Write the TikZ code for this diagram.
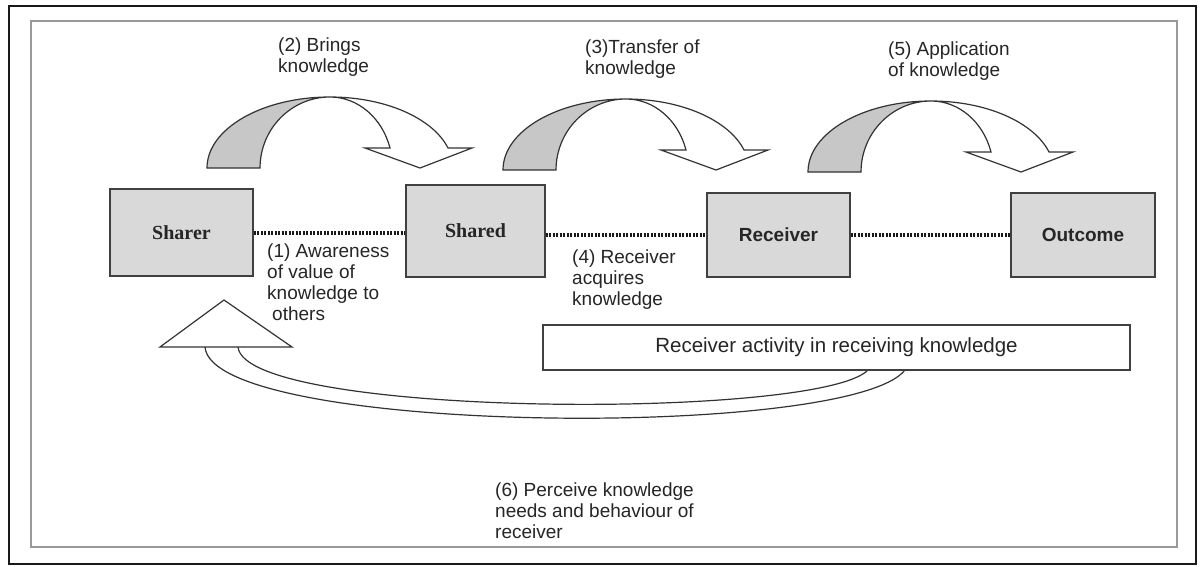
\documentclass[tikz,border=0pt]{standalone}
\usepackage{fontspec}
\setmainfont{Liberation Sans}
\newfontfamily\boxserif{Liberation Serif}
\begin{document}
\begin{tikzpicture}[x=1pt,y=-1pt,
  box/.style={draw=black!75, line width=1.3pt, fill=black!15, inner sep=0pt,
    font=\bfseries\fontsize{19}{21}\selectfont, text=black!85},
  serifbox/.style={box, font=\boxserif\bfseries\fontsize{20}{22}\selectfont},
  lbl/.style={anchor=north west, inner sep=0pt, align=left,
    font=\fontsize{19}{21}\selectfont, text=black!85},
  dotline/.style={draw=black!90, line width=4pt, dash pattern=on 2pt off 1.5pt},
  shapeline/.style={draw=black!80, line width=1.2pt},
  curvearrow/.pic={
    \path[fill=white] (0,0) arc[start angle=180,end angle=343.64,x radius=123,y radius=71]
      -- (265,-20) -- (213,0) -- (158,-20) -- (183,-20)
      arc[start angle=343.64,end angle=270,x radius=62.5,y radius=71]
      arc[start angle=270,end angle=180,x radius=70,y radius=71] -- cycle;
    \fill[black!22] (0,0) arc[start angle=180,end angle=270,x radius=123,y radius=71]
      arc[start angle=270,end angle=180,x radius=70,y radius=71] -- cycle;
    \draw[shapeline, line join=miter] (0,0) arc[start angle=180,end angle=343.64,x radius=123,y radius=71]
      -- (265,-20) -- (213,0) -- (158,-20) -- (183,-20)
      arc[start angle=343.64,end angle=270,x radius=62.5,y radius=71]
      arc[start angle=270,end angle=180,x radius=70,y radius=71] -- cycle;
  }]
\useasboundingbox (0,0) rectangle (1204,566);
\fill[white] (0,0) rectangle (1204,566);
% frames
\draw[line width=2pt, black!90] (9,6) rectangle (1196,564);
\draw[line width=2pt, black!40] (31,21) rectangle (1177,547);

% boxes
\node[serifbox, minimum width=143pt, minimum height=87pt] (sharer) at (181.5,232.5) {Sharer};
\node[serifbox, minimum width=139pt, minimum height=92pt] (shared) at (475.5,231) {Shared};
\node[box, minimum width=143pt, minimum height=84pt] (receiver) at (778.5,235) {Receiver};
\node[box, minimum width=144pt, minimum height=84pt] (outcome) at (1083,235) {Outcome};

% dotted connectors
\draw[dotline] (sharer.east) -- (sharer.east -| shared.west);
\draw[dotline] (shared.east |- receiver.west) -- (receiver.west);
\draw[dotline] (receiver.east) -- (outcome.west);

% top curved arrows
\pic at (207,168) {curvearrow};
\pic at (503,170) {curvearrow};
\pic at (808,172) {curvearrow};

% labels
\node[lbl] (l2) at (278,38) {(2) Brings\\knowledge};
\node[lbl] (l3) at (585,40) {(3)Transfer of\\knowledge};
\node[lbl] (l5) at (888,42) {(5) Application\\of knowledge};
\node[lbl] (l1) at (267,244) {(1) Awareness\\of value of\\knowledge to\\\hspace*{5pt}others};
\node[lbl] (l4) at (572,250) {(4) Receiver\\acquires\\knowledge};
\node[lbl] (l6) at (495,483) {(6) Perceive knowledge\\needs and behaviour of\\receiver};

% feedback arrow
\coordinate (fbL) at (205,347);
\coordinate (fbR) at (238,347);
\coordinate (feO) at (905,370);
\coordinate (feI) at (868,370);
\draw[shapeline] (fbL) .. controls (212,435) and (850,440) .. (feO);
\draw[shapeline] (fbR) .. controls (245,418) and (820,420) .. (feI);
\coordinate (tA) at (224,300);
\coordinate (tL) at (160,347);
\coordinate (tR) at (292,347);
\draw[shapeline, fill=white, line join=miter] (tA) -- (tR) -- (tL) -- cycle;

% activity box
\node[draw=black!75, line width=1.3pt, fill=white, minimum width=587pt, minimum height=45pt,
  font=\fontsize{20.5}{23}\selectfont, text=black!85] (activity) at (836.5,347.5)
  {Receiver activity in receiving knowledge};
\end{tikzpicture}
\end{document}
